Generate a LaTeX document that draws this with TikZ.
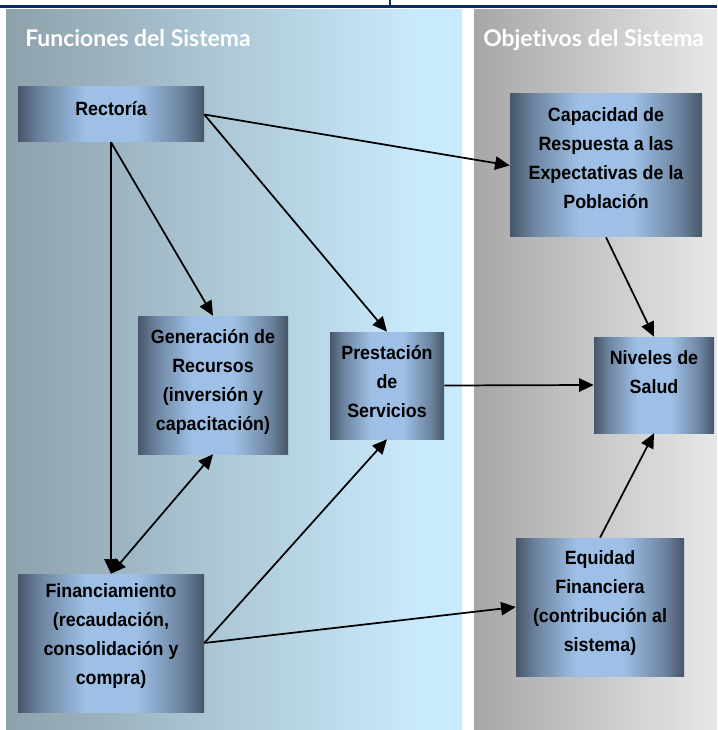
\documentclass[tikz,border=0pt]{standalone}
\usepackage{fontspec}
\setmainfont{Liberation Sans}
\newfontfamily\boxfont[FakeStretch=0.93]{Liberation Sans}
\newfontfamily\titlefont[Ligatures={NoCommon}]{Lato}
\usetikzlibrary{arrows.meta}
\definecolor{navy}{HTML}{0B2A6E}
\definecolor{bdark}{HTML}{47566A}
\definecolor{bmid}{HTML}{6D84A0}
\definecolor{blight}{HTML}{9EC0E6}
\definecolor{lpa}{HTML}{8DA1AB}
\definecolor{lpb}{HTML}{C9EAFC}
\definecolor{rpa}{HTML}{A7A7A7}
\definecolor{rpb}{HTML}{E8E8E8}
\pgfdeclarehorizontalshading{boxshade}{100bp}{color(0bp)=(bdark); color(25bp)=(bdark); color(31bp)=(bmid); color(43bp)=(blight); color(57bp)=(blight); color(69bp)=(bmid); color(75bp)=(bdark); color(100bp)=(bdark)}
\pgfdeclarehorizontalshading{leftpanel}{100bp}{color(0bp)=(lpa); color(25bp)=(lpa); color(70bp)=(lpb); color(100bp)=(lpb)}
\pgfdeclarehorizontalshading{rightpanel}{100bp}{color(0bp)=(rpa); color(25bp)=(rpa); color(75bp)=(rpb); color(100bp)=(rpb)}
\tikzset{
  boxnode/.style={shading=boxshade, inner sep=0pt},
  boxtext/.style={inner sep=0pt, align=center, text=black,
    font=\boxfont\bfseries\fontsize{14.4}{21.75}\selectfont},
  conn/.style={line width=1.3pt, draw=black, -{Triangle[length=11pt,width=10pt]}},
  dconn/.style={line width=1.3pt, draw=black, {Triangle[length=11pt,width=10pt]}-{Triangle[length=11pt,width=10pt]}},
  paneltitle/.style={anchor=base west, inner sep=0pt, text=white,
    font=\titlefont\bfseries\fontsize{17.2}{20}\selectfont}
}
\begin{document}
\begin{tikzpicture}[x=0.75pt,y=-0.75pt]
\useasboundingbox (0,0) rectangle (717,730);
% panels
\shade[shading=leftpanel] (6,10) rectangle (462,730);
\shade[shading=rightpanel] (474,10) rectangle (717,730);
% header line
\fill[navy] (0,5) rectangle (717,8);
\fill[navy] (389,0) rectangle (391,8);
% titles
\node[paneltitle] (tleft) at (25,47) {Funciones del Sistema};
\node[paneltitle] (tright) at (483,47) {Objetivos del Sistema};
% boxes
\node[boxnode, minimum width=186*0.75pt, minimum height=55*0.75pt] (rect) at (111,114.5) {};
\node[boxnode, minimum width=192*0.75pt, minimum height=143*0.75pt] (cap) at (606,165.5) {};
\node[boxnode, minimum width=150*0.75pt, minimum height=138*0.75pt] (gen) at (213,385) {};
\node[boxnode, minimum width=114*0.75pt, minimum height=107*0.75pt] (pres) at (387,385.5) {};
\node[boxnode, minimum width=120*0.75pt, minimum height=96*0.75pt] (niv) at (654,385) {};
\node[boxnode, minimum width=186*0.75pt, minimum height=138*0.75pt] (fin) at (111,643) {};
\node[boxnode, minimum width=168*0.75pt, minimum height=138*0.75pt] (equ) at (600,607) {};
% box texts
\node[boxtext] (rect-t) at (111,109) {Rectoría};
\node[boxtext] (cap-t) at (606,158.5) {Capacidad de\\Respuesta a las\\Expectativas de la\\Población};
\node[boxtext] (gen-t) at (213,382) {Generación de\\Recursos\\(inversión y\\capacitación)};
\node[boxtext] (pres-t) at (387,382) {Prestación\\de\\Servicios};
\node[boxtext] (niv-t) at (654,372) {Niveles de\\Salud};
\node[boxtext] (fin-t) at (111,636.5) {Financiamiento\\(recaudación,\\consolidación y\\compra)};
\node[boxtext] (equ-t) at (600,603.5) {Equidad\\Financiera\\(contribución al\\sistema)};
% connectors
\draw[conn] (rect.east) -- (cap.west);
\draw[conn] (rect.east) -- (pres.north);
\draw[conn] (rect.south) -- (gen.north);
\draw[conn] (rect.south) -- (fin.north);
\draw[dconn] (fin.north) -- (gen.south);
\draw[conn] (fin.east) -- (pres.south);
\draw[conn] (fin.east) -- (equ.west);
\draw[conn] (pres.east) -- (niv.west);
\draw[conn] (cap.south) -- (niv.north);
\draw[conn] (equ.north) -- (niv.south);
\end{tikzpicture}
\end{document}
